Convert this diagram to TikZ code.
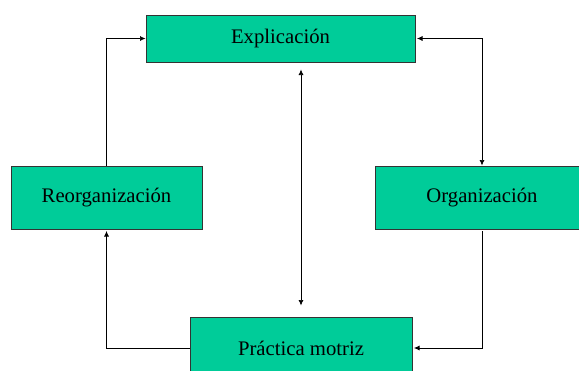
\documentclass[tikz,border=0pt]{standalone}
\usepackage{fontspec}
\setmainfont{Liberation Serif}
\usetikzlibrary{arrows.meta}
\definecolor{verdecaja}{RGB}{0,204,153}

\begin{document}
\begin{tikzpicture}[x=1pt,y=-1pt,
		caja/.style={draw=black!80,line width=1pt,fill=verdecaja,inner sep=0pt,font=\fontsize{20.7}{24}\selectfont},
		flecha/.style={line width=0.7pt,-{Latex[length=5.5pt,width=5pt]}},
		doble/.style={line width=0.7pt,{Latex[length=5.5pt,width=5pt]}-{Latex[length=5.5pt,width=5pt]}}]
		\useasboundingbox (0,0) rectangle (579,370);
		\node[caja,minimum width=269pt,minimum height=47pt] (expl) at (280.5,38.5) {Explicación};
		\node[caja,minimum width=191pt,minimum height=63pt] (reorg) at (106.5,197.5) {Reorganización};
		\node[caja,minimum width=214pt,minimum height=63pt] (org) at (482,197.5) {Organización};
		\node[caja,minimum width=222pt,minimum height=62pt] (prac) at (301,348) {Práctica motriz};
		\draw[flecha] (reorg.north) -- (reorg.north |- expl.west) -- (expl.west);
		\draw[doble,shorten <=1.5pt] (expl.east) -- (org.north |- expl.east) -- (org.north);
		\draw[doble,shorten <=11pt,shorten >=7pt] (prac.north) -- (prac.north |- expl.south);
		\draw[flecha,shorten <=1.5pt,shorten >=1.5pt] (org.south) -- (org.south |- prac.east) -- (prac.east);
		\draw[flecha,shorten >=1.5pt] (prac.west) -- (reorg.south |- prac.west) -- (reorg.south);
	\end{tikzpicture}
\end{document}
